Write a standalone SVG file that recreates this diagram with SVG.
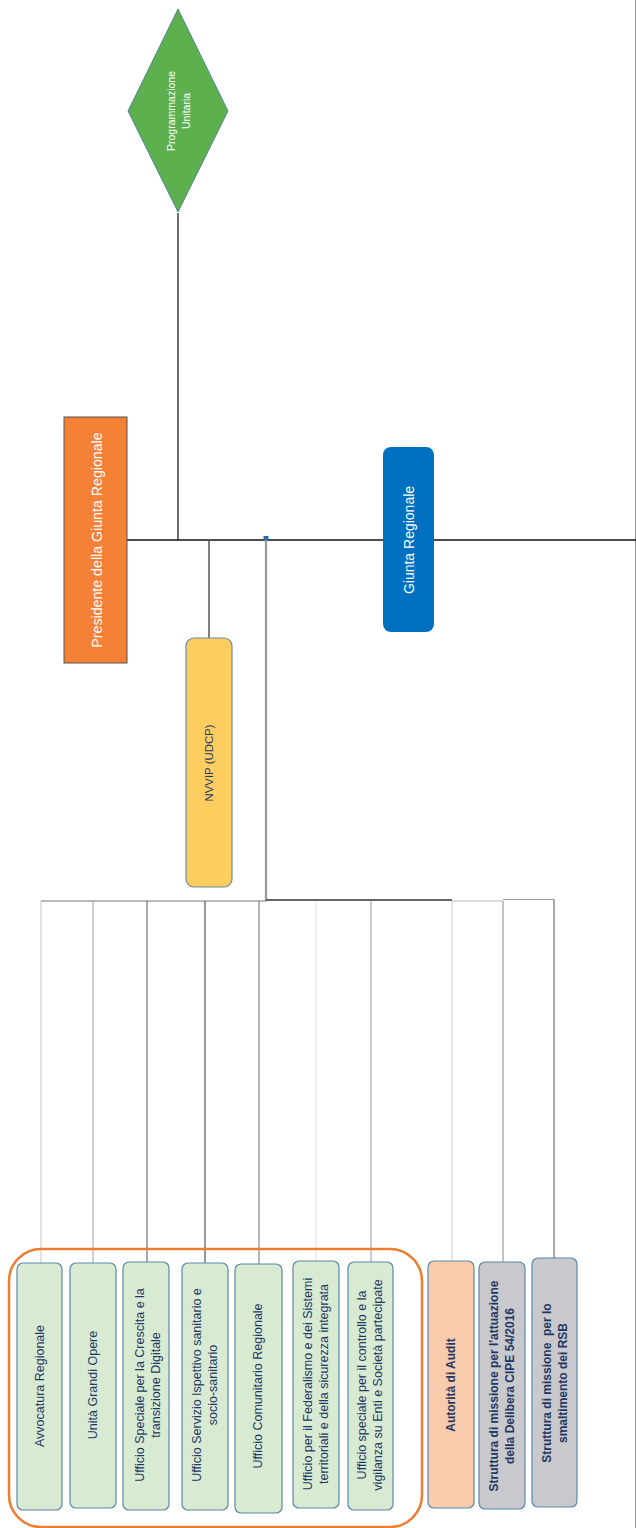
<svg xmlns="http://www.w3.org/2000/svg" width="636" height="1528" viewBox="0 0 636 1528">
<style>
text{font-family:"Liberation Sans",Arial,sans-serif;}
.w{fill:#ffffff;}
.n{fill:#1f3864;font-size:12.5px;}
.b{fill:#1f3864;font-size:12px;font-weight:bold;}
.g{fill:#d9ead3;stroke:#5b87a8;stroke-width:1.2;}
.o{fill:#f8cbad;stroke:#5b87a8;stroke-width:1.2;}
.s{fill:#c9c9cd;stroke:#5b87a8;stroke-width:1.2;}
.c{fill:none;}
</style>
<rect width="636" height="1528" fill="#ffffff"/>
<g id="connectors" class="c">
  <line x1="635.5" y1="0" x2="635.5" y2="1528" stroke="#9a9a9a" stroke-width="1"/>
  <line x1="178" y1="213" x2="178" y2="540" stroke="#222" stroke-width="1.3"/>
  <line x1="127" y1="540" x2="636" y2="540" stroke="#111" stroke-width="1.5"/>
  <line x1="209" y1="540" x2="209" y2="638" stroke="#555" stroke-width="1.5"/>
  <line x1="266" y1="540" x2="266" y2="901" stroke="#777" stroke-width="2.2"/>
  <line x1="266" y1="540" x2="266" y2="901" stroke="#cfcfcf" stroke-width="0.8"/>
  <rect x="263.5" y="536" width="5" height="4" fill="#1f6fb6"/>
  <line x1="41" y1="901" x2="266" y2="901" stroke="#777" stroke-width="1.2"/>
  <line x1="266" y1="900" x2="452" y2="900" stroke="#333" stroke-width="1.5"/>
  <line x1="452" y1="901" x2="503" y2="901" stroke="#bbb" stroke-width="1.2"/>
  <line x1="503" y1="899.5" x2="554" y2="899.5" stroke="#999" stroke-width="1"/>
  <line x1="41" y1="901" x2="41" y2="1263" stroke="#c4c4c4" stroke-width="1"/>
  <line x1="93" y1="901" x2="93" y2="1263" stroke="#a0a0a0" stroke-width="1"/>
  <line x1="147" y1="901" x2="147" y2="1262" stroke="#555" stroke-width="1"/>
  <line x1="205" y1="901" x2="205" y2="1263" stroke="#333" stroke-width="1"/>
  <line x1="259" y1="901" x2="259" y2="1264" stroke="#888" stroke-width="1.2"/>
  <line x1="316" y1="901" x2="316" y2="1261" stroke="#e0e0e0" stroke-width="1"/>
  <line x1="371" y1="901" x2="371" y2="1262" stroke="#999" stroke-width="1"/>
  <line x1="452" y1="901" x2="452" y2="1261" stroke="#cfcfcf" stroke-width="1"/>
  <line x1="503" y1="901" x2="503" y2="1262" stroke="#888" stroke-width="1"/>
  <line x1="554" y1="899.5" x2="554" y2="1258" stroke="#555" stroke-width="1"/>
</g>
<g id="programmazione">
  <polygon points="178,9 228,111 178,212 128,111" fill="#5cb04d" stroke="#41719c" stroke-width="0.8"/>
  <text class="w" font-size="10.5" text-anchor="middle" transform="translate(175,111) rotate(-90)"><tspan x="0" y="0">Programmazione</tspan><tspan x="0" y="15">Unitaria</tspan></text>
</g>
<g id="presidente">
  <rect x="64" y="417" width="63" height="246" fill="#f58137" stroke="#555" stroke-width="1"/>
  <text class="w" font-size="14.2" text-anchor="middle" transform="translate(101.5,540) rotate(-90)">Presidente della Giunta Regionale</text>
</g>
<g id="giunta">
  <rect x="383" y="447" width="51" height="185" rx="8" fill="#0070c0"/>
  <text class="w" font-size="14" text-anchor="middle" transform="translate(413.5,540) rotate(-90)">Giunta Regionale</text>
</g>
<g id="nvvip">
  <rect x="186" y="638" width="46" height="249" rx="8" fill="#fecd60" stroke="#6a8aa0" stroke-width="1.2"/>
  <text fill="#1f3864" font-size="11.4" text-anchor="middle" transform="translate(213,763) rotate(-90)">NVVIP (UDCP)</text>
</g>
<g id="gruppo">
  <rect x="9" y="1249" width="413" height="278" rx="32" fill="none" stroke="#ee7d31" stroke-width="2.5"/>
</g>
<g id="avvocatura">
  <rect class="g" x="17" y="1263" width="45" height="247" rx="6"/>
  <text class="n" text-anchor="middle" transform="translate(43.5,1386) rotate(-90)">Avvocatura Regionale</text>
</g>
<g id="unita">
  <rect class="g" x="70" y="1263" width="46" height="245" rx="6"/>
  <text class="n" text-anchor="middle" transform="translate(96.8,1385) rotate(-90)">Unità Grandi Opere</text>
</g>
<g id="crescita">
  <rect class="g" x="123" y="1262" width="46" height="248" rx="6"/>
  <text class="n" text-anchor="middle" transform="translate(143.5,1385) rotate(-90)"><tspan x="0" y="0">Ufficio Speciale per la Crescita e la</tspan><tspan x="0" y="16">transizione Digitale</tspan></text>
</g>
<g id="ispettivo">
  <rect class="g" x="182" y="1263" width="46" height="247" rx="6"/>
  <text class="n" text-anchor="middle" transform="translate(200.5,1385) rotate(-90)"><tspan x="0" y="0">Ufficio Servizio Ispettivo sanitario e</tspan><tspan x="0" y="16">socio-sanitario</tspan></text>
</g>
<g id="comunitario">
  <rect class="g" x="235" y="1264" width="47" height="249" rx="6"/>
  <text class="n" text-anchor="middle" transform="translate(262.3,1386) rotate(-90)">Ufficio Comunitario Regionale</text>
</g>
<g id="federalismo">
  <rect class="g" x="293" y="1261" width="46" height="247" rx="6"/>
  <text class="n" text-anchor="middle" transform="translate(311.8,1384) rotate(-90)"><tspan x="0" y="0">Ufficio per il Federalismo e dei Sistemi</tspan><tspan x="0" y="16">territoriali e della sicurezza integrata</tspan></text>
</g>
<g id="controllo">
  <rect class="g" x="348" y="1262" width="45" height="248" rx="6"/>
  <text class="n" text-anchor="middle" transform="translate(366.3,1385) rotate(-90)"><tspan x="0" y="0">Ufficio speciale per il controllo e la</tspan><tspan x="0" y="16">vigilanza su Enti e Società partecipate</tspan></text>
</g>
<g id="audit">
  <rect class="o" x="428" y="1261" width="46" height="247" rx="6"/>
  <text class="b" text-anchor="middle" transform="translate(455,1385) rotate(-90)">Autorità di Audit</text>
</g>
<g id="cipe">
  <rect class="s" x="479" y="1262" width="46" height="247" rx="6"/>
  <text class="b" text-anchor="middle" transform="translate(498,1386) rotate(-90)"><tspan x="0" y="0">Struttura di missione per l'attuazione</tspan><tspan x="0" y="16">della Delibera CIPE 54/2016</tspan></text>
</g>
<g id="rsb">
  <rect class="s" x="532" y="1258" width="45" height="249" rx="6"/>
  <text class="b" text-anchor="middle" transform="translate(550.5,1383) rotate(-90)" xml:space="preserve"><tspan x="0" y="0">Struttura di missione  per lo</tspan><tspan x="0" y="16">smaltimento dei RSB</tspan></text>
</g>
</svg>
